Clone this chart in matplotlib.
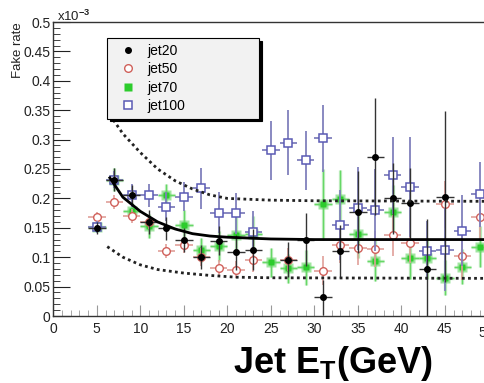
import matplotlib
matplotlib.use("Agg")
import matplotlib.pyplot as plt
from matplotlib.ticker import MultipleLocator, FixedLocator
from matplotlib.lines import Line2D

plt.rcParams["font.family"] = ["Liberation Sans", "DejaVu Sans"]
plt.rcParams["mathtext.fontset"] = "custom"
plt.rcParams["mathtext.rm"] = "Liberation Sans:bold"
plt.rcParams["mathtext.bf"] = "Liberation Sans:bold"

# bin centres (GeV), fake rate in units of 1e-3
et = [5, 7, 9, 11, 13, 15, 17, 19, 21, 23, 25, 27, 29, 31, 33, 35, 37, 39, 41, 43, 45, 47, 49]

jet20 = [0.150, 0.232, 0.205, 0.160, 0.149, 0.129, 0.100, 0.128, 0.108, 0.113, None, 0.096,
         0.130, 0.032, 0.110, 0.177, 0.271, 0.200, 0.192, 0.080, 0.203, None, None]
jet20_err = [0.010, 0.020, 0.018, 0.020, 0.020, 0.020, 0.020, 0.025, 0.030, 0.035, None, 0.030,
             0.045, 0.030, 0.045, 0.070, 0.100, 0.060, 0.060, 0.085, 0.145, None, None]

jet50 = [0.169, 0.194, 0.170, 0.160, 0.110, 0.121, 0.100, 0.081, 0.079, 0.095, None, 0.096,
         None, 0.077, 0.120, 0.116, 0.114, 0.137, 0.125, None, 0.190, 0.102, 0.168]
jet50_err = [0.008, 0.012, 0.012, 0.012, 0.012, 0.014, 0.015, 0.015, 0.015, 0.020, None, 0.020,
             None, 0.025, 0.030, 0.030, 0.030, 0.035, 0.035, None, 0.040, 0.040, 0.040]

jet70 = [0.152, 0.232, 0.178, 0.153, 0.205, 0.155, 0.112, 0.119, 0.138, 0.140, 0.091, 0.081,
         0.083, 0.190, 0.199, 0.139, 0.094, 0.177, 0.098, 0.098, 0.065, 0.084, 0.118]
jet70_err = [0.008, 0.020, 0.015, 0.020, 0.020, 0.025, 0.020, 0.025, 0.030, 0.030, 0.025, 0.025,
             0.030, 0.060, 0.050, 0.040, 0.035, 0.045, 0.035, 0.035, 0.030, 0.030, 0.035]

jet100 = [0.152, 0.232, 0.205, 0.205, 0.186, 0.203, 0.217, 0.176, 0.175, 0.143, 0.282, 0.295,
          0.265, 0.302, 0.155, 0.183, 0.180, 0.239, 0.219, 0.111, 0.113, 0.145, 0.207]
jet100_err = [0.010, 0.015, 0.020, 0.020, 0.025, 0.025, 0.035, 0.035, 0.035, 0.035, 0.050, 0.055,
              0.050, 0.057, 0.060, 0.070, 0.070, 0.065, 0.085, 0.050, 0.070, 0.060, 0.055]

# fit curve and band
fit_x = [6.5, 8, 10, 12, 14, 16, 18, 20, 25, 30, 50]
fit_y = [0.235, 0.202, 0.178, 0.160, 0.148, 0.140, 0.136, 0.134, 0.131, 0.130, 0.130]
up_x = [6.5, 8, 10, 12, 14, 16, 18, 20, 25, 30, 50]
up_y = [0.342, 0.310, 0.278, 0.250, 0.230, 0.216, 0.206, 0.200, 0.197, 0.196, 0.195]
lo_x = [6.2, 8, 10, 12, 15, 18, 21, 25, 50]
lo_y = [0.118, 0.100, 0.087, 0.079, 0.073, 0.069, 0.066, 0.065, 0.064]

xticks = [0, 5, 10, 15, 20, 25, 30, 35, 40, 45, 50]
xticklabels = ["0", "5", "10", "15", "20", "25", "30", "35", "40", "45", ""]
yticks = [0, 0.05, 0.1, 0.15, 0.2, 0.25, 0.3, 0.35, 0.4, 0.45, 0.5]
yticklabels = ["0", "0.05", "0.1", "0.15", "0.2", "0.25", "0.3", "0.35", "0.4", "0.45", "0.5"]


def valid(xs, ys, es):
    pts = [(x, y, e) for x, y, e in zip(xs, ys, es) if y is not None]
    return [p[0] for p in pts], [p[1] for p in pts], [p[2] for p in pts]


fig = plt.figure(figsize=(4.85, 3.83), dpi=100)
ax = fig.add_axes([53.3 / 485, 1 - 316 / 383, 435 / 485, 294 / 383])

# green series: soft halo to mimic the blurry markers
x, y, e = valid(et, jet70, jet70_err)
ax.errorbar(x, y, yerr=e, xerr=1, fmt="s", color="#44cc44", ms=7, mec="none",
            ecolor="#99e099", elinewidth=2.4, capsize=0, alpha=0.5, zorder=2)
ax.errorbar(x, y, yerr=e, xerr=1, fmt="s", color="#2ccc2c", ms=5, mec="none",
            ecolor="#66d866", elinewidth=1.0, capsize=0, zorder=3)

x, y, e = valid(et, jet50, jet50_err)
ax.errorbar(x, y, yerr=e, xerr=1, fmt="o", mfc="white", mec="#d0605a", ms=5.5, mew=1.0,
            ecolor="#e0a09a", elinewidth=1.2, capsize=0, zorder=4)

x, y, e = valid(et, jet100, jet100_err)
ax.errorbar(x, y, yerr=e, xerr=1, fmt="s", mfc="white", mec="#5a5ab4", ms=6, mew=1.1,
            ecolor="#8080bc", elinewidth=1.3, capsize=0, zorder=5)

x, y, e = valid(et, jet20, jet20_err)
ax.errorbar(x, y, yerr=e, xerr=1, fmt="o", color="black", ms=4,
            ecolor="#333333", elinewidth=1.0, capsize=0, zorder=6)

ax.plot(fit_x, fit_y, color="black", lw=2.0, zorder=7)
ax.plot(up_x, up_y, color="#222222", lw=2.0, ls=(0, (1, 1.2)), zorder=7)
ax.plot(lo_x, lo_y, color="#222222", lw=2.0, ls=(0, (1, 1.2)), zorder=7)

ax.set_xlim(0, 50)
ax.set_ylim(0, 0.5)
ax.xaxis.set_major_locator(FixedLocator(xticks))
ax.set_xticklabels(xticklabels)
ax.yaxis.set_major_locator(FixedLocator(yticks))
ax.set_yticklabels(yticklabels)
ax.xaxis.set_minor_locator(MultipleLocator(1))
ax.yaxis.set_minor_locator(MultipleLocator(0.01))
ax.tick_params(axis="both", which="both", direction="in", labelsize=10, colors="#222222")
ax.tick_params(axis="y", which="major", length=12, pad=2)
ax.tick_params(axis="y", which="minor", length=5)
ax.tick_params(axis="x", which="major", length=8, pad=4, color="#999999")
ax.tick_params(axis="x", which="minor", length=4, color="#999999")
ax.spines["right"].set_visible(False)
for s in ("left", "bottom", "top"):
    ax.spines[s].set_linewidth(1.0)
    ax.spines[s].set_color("#333333")

# last x label ("50") is clipped by the image edge in the original, only "5" shows
fig.text(478 / 485, 1 - 333 / 383, "5", fontsize=10, ha="left", va="center", color="#222222")

# ROOT-style exponent and axis title
fig.text(57 / 485, 1 - 24 / 383, r"x10$^{-3}$", fontsize=9.5, va="bottom", ha="left",
         color="#222222")
fig.text(18 / 485, 1 - 22 / 383, "Fake rate", rotation=90, fontsize=9.5, ha="center",
         va="top", color="#222222")
fig.text(333 / 485, 1 - 373 / 383, r"Jet E$_{\mathbf{T}}$(GeV)", fontsize=26,
         fontweight="bold", ha="center", va="baseline")

handles = [
    Line2D([], [], ls="none", marker="o", color="black", ms=4),
    Line2D([], [], ls="none", marker="o", mfc="white", mec="#d0605a", ms=5.5, mew=1.0),
    Line2D([], [], ls="none", marker="s", color="#2ccc2c", ms=5.5, mec="none"),
    Line2D([], [], ls="none", marker="s", mfc="white", mec="#5a5ab4", ms=6, mew=1.1),
]
labels = ["jet20", "jet50", "jet70", "jet100"]
leg = fig.legend(handles, labels,
                 loc="upper left", bbox_to_anchor=(107 / 485, 1 - 42 / 383, 152 / 485, 0.01),
                 mode="expand", borderaxespad=0, fontsize=10, labelspacing=0.32,
                 handlelength=2.2, handletextpad=0.3, borderpad=0.4, fancybox=False,
                 framealpha=1, facecolor="#f2f2f2", edgecolor="black",
                 shadow={"color": "black", "alpha": 1})
leg.get_frame().set_linewidth(0.8)

fig.savefig("out.png", dpi=100)
